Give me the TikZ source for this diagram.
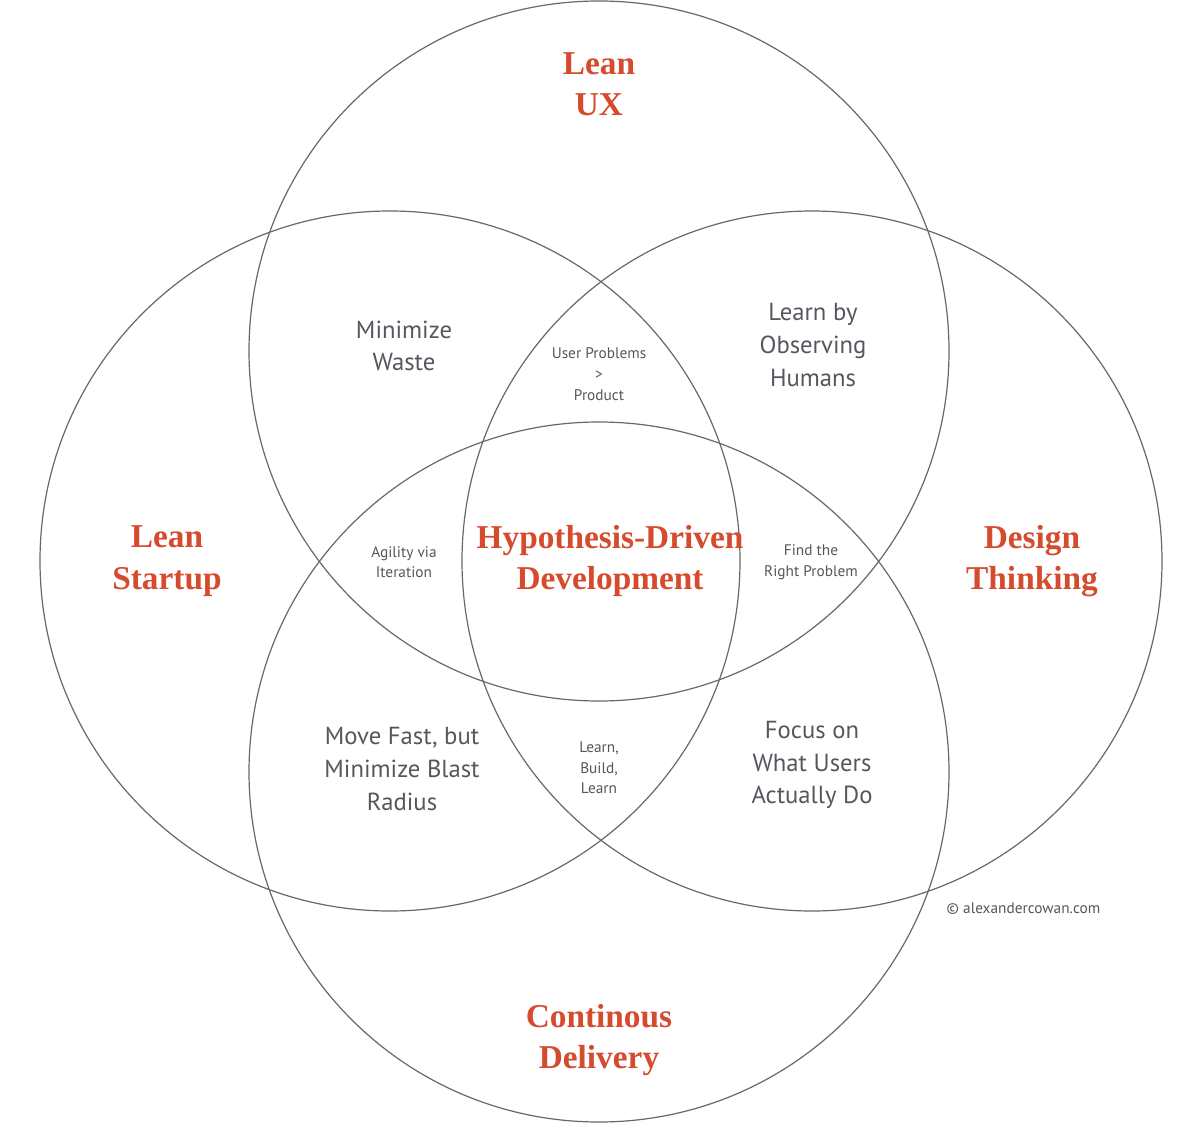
\documentclass[tikz,border=0pt]{standalone}
\usepackage{fontspec}
\setmainfont{PT Sans}
\newfontfamily\titlefont{Liberation Serif}
\definecolor{rd}{HTML}{D64A2E}
\definecolor{gr}{HTML}{54585E}
\begin{document}
\begin{tikzpicture}[x=0.75pt,y=-0.75pt,
  ring/.style={draw=gr!90,line width=0.9pt},
  ttl/.style={text=rd,font=\titlefont\bfseries\fontsize{25}{31}\selectfont,align=center},
  big/.style={text=gr,font=\fontsize{18.5}{24.5}\selectfont,align=center},
  sml/.style={text=gr,font=\fontsize{11.5}{15.5}\selectfont,align=center}]
\useasboundingbox (0,0) rectangle (1200,1123);
\fill[white] (0,0) rectangle (1200,1123);
\draw[ring] (599,351) circle[radius=350];
\draw[ring] (390,561) circle[radius=350];
\draw[ring] (812,561) circle[radius=350];
\draw[ring] (599,772) circle[radius=350];
\node[ttl] (ux) at (599,84) {Lean\\UX};
\node[ttl] (ls) at (167,561) {Lean\\Startup};
\node[ttl] (dt) at (1032,561) {Design\\Thinking};
\node[ttl] (cd) at (599,1040) {Continous\\Delivery};
\node[ttl] (hdd) at (610,561) {Hypothesis-Driven\\Development};
\node[big] (mw) at (404,346) {Minimize\\Waste};
\node[big] (lo) at (813,345) {Learn by\\Observing\\Humans};
\node[big] (mf) at (402,769) {Move Fast, but\\Minimize Blast\\Radius};
\node[big] (fo) at (812,765) {Focus on\\What Users\\Actually Do};
\node[sml] (up) at (599,374) {User Problems\\>\\Product};
\node[sml] (ag) at (404,562) {Agility via\\Iteration};
\node[sml] (fr) at (811,562) {Find the\\Right Problem};
\node[sml] (lb) at (599,768) {Learn,\\Build,\\Learn};
\node[sml,anchor=west] (cp) at (942,909) {© alexandercowan.com};
\end{tikzpicture}
\end{document}
